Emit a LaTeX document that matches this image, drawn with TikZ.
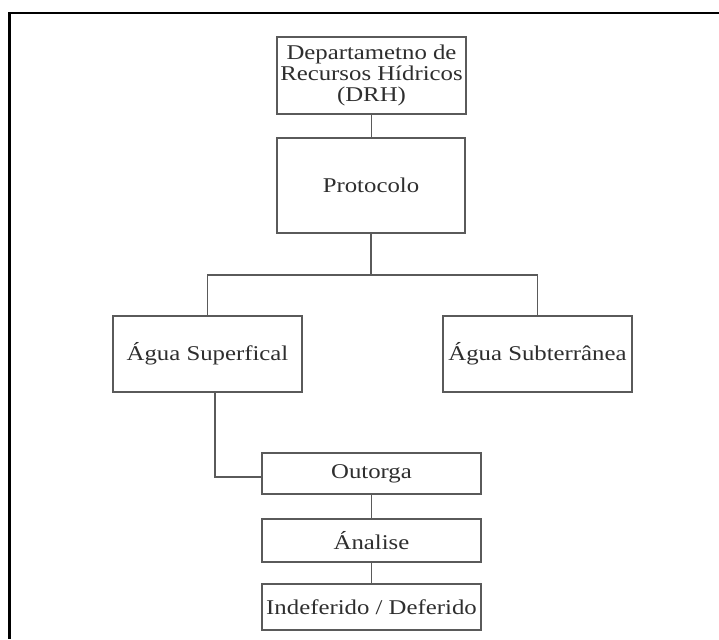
\documentclass[tikz,border=0pt]{standalone}
\usepackage{fontspec}
\setmainfont{Liberation Serif}[FakeStretch=1.18]
\usetikzlibrary{calc}
\definecolor{boxline}{HTML}{5A5A5A}
\definecolor{boxtext}{HTML}{2E2E2E}
\tikzset{
  orgbox/.style={draw=boxline, line width=1.5pt, fill=white, inner sep=0pt,
    align=center, text=boxtext, font=\fontsize{21}{21}\selectfont},
  link/.style={draw=boxline, line width=1.5pt},
  frame/.style={draw=black, line width=2.4pt}
}
\begin{document}
\begin{tikzpicture}[x=1pt, y=-1pt]
  \useasboundingbox (0,0) rectangle (719,639);
  % page frame (top and left edges)
  \coordinate (ftr) at (719,13);
  \coordinate (ftl) at (9.5,13);
  \coordinate (fbl) at (9.5,639);
  \draw[frame] (ftr) -- (ftl) -- (fbl);

  % boxes
  \node[orgbox, minimum width=189pt, minimum height=77pt] (drh) at (371.5,75.5)
    {Departametno de\\Recursos Hídricos\\(DRH)};
  \node[orgbox, minimum width=188pt, minimum height=95pt] (prot) at (371,185.5)
    {Protocolo};
  \node[orgbox, minimum width=189pt, minimum height=76pt] (sup) at (207.5,354)
    {Água Superfical};
  \node[orgbox, minimum width=189pt, minimum height=76pt] (sub) at (537.5,354)
    {Água Subterrânea};
  \node[orgbox, minimum width=219pt, minimum height=41pt] (out) at (371.5,473.5)
    {Outorga};
  \node[orgbox, minimum width=219pt, minimum height=43pt] (ana) at (371.5,540.5)
    {Ánalise};
  \node[orgbox, minimum width=219pt, minimum height=46pt] (ind) at (371.5,607)
    {Indeferido / Deferido};

  % connectors
  \draw[link] (drh.south) -- (drh.south |- prot.north);
  \coordinate (split) at ($(prot.south)+(0,41)$);
  \draw[link] (prot.south) -- (split);
  \draw[link] (split) -| (sup.north);
  \draw[link] (split) -| (sub.north);
  \draw[link] ($(sup.south)+(7.5,0)$) |- ([yshift=-3.5pt]out.west);
  \draw[link] (out.south) -- (ana.north);
  \draw[link] (ana.south) -- (ind.north);
\end{tikzpicture}
\end{document}
